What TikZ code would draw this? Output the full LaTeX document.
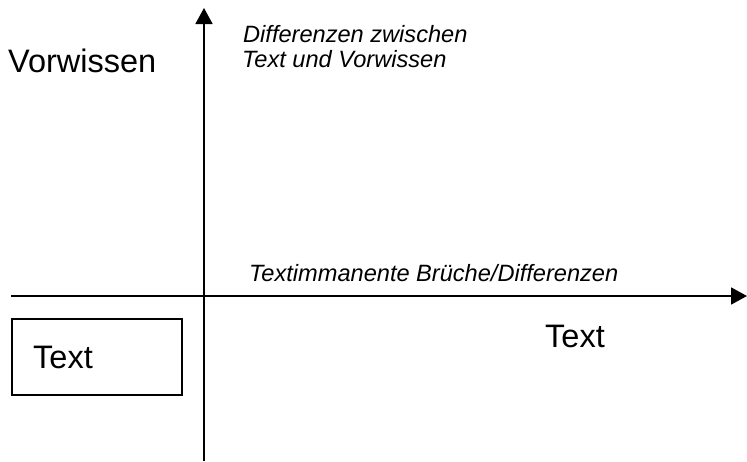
\documentclass[tikz,border=0pt]{standalone}
\usepackage{fontspec}
\setmainfont{Liberation Sans}
\usetikzlibrary{arrows.meta}
\begin{document}
\begin{tikzpicture}[x=1pt,y=-1pt,
  axis/.style={line width=1.8pt,-{Triangle[length=16pt,width=17pt]}},
  big/.style={font=\fontsize{32.5}{36}\selectfont,inner sep=0pt,anchor=base west},
  lab/.style={font=\fontsize{23.6}{25}\selectfont\itshape,inner sep=0pt,anchor=base west},
  frame/.style={draw,line width=1.8pt,minimum width=170pt,minimum height=76pt,inner sep=0pt}]
\useasboundingbox (0,0) rectangle (747,461);
\coordinate (xs) at (11,296);
\coordinate (xe) at (747,296);
\coordinate (ys) at (204,461);
\coordinate (ye) at (204,8);
\draw[axis] (xs) -- (xe);
\draw[axis] (ys) -- (ye);
\node[frame] (box) at (97,357) {};
\node[big] (tbox) at (33,368) {Text};
\node[big] (vw) at (8,72) {Vorwissen};
\node[big] (tx) at (545,347) {Text};
\node[lab] (d1) at (243,42) {Differenzen zwischen};
\node[lab] (d2) at (242,67) {Text und Vorwissen};
\node[lab] (tb) at (249,281) {Textimmanente Brüche/Differenzen};
\end{tikzpicture}
\end{document}
